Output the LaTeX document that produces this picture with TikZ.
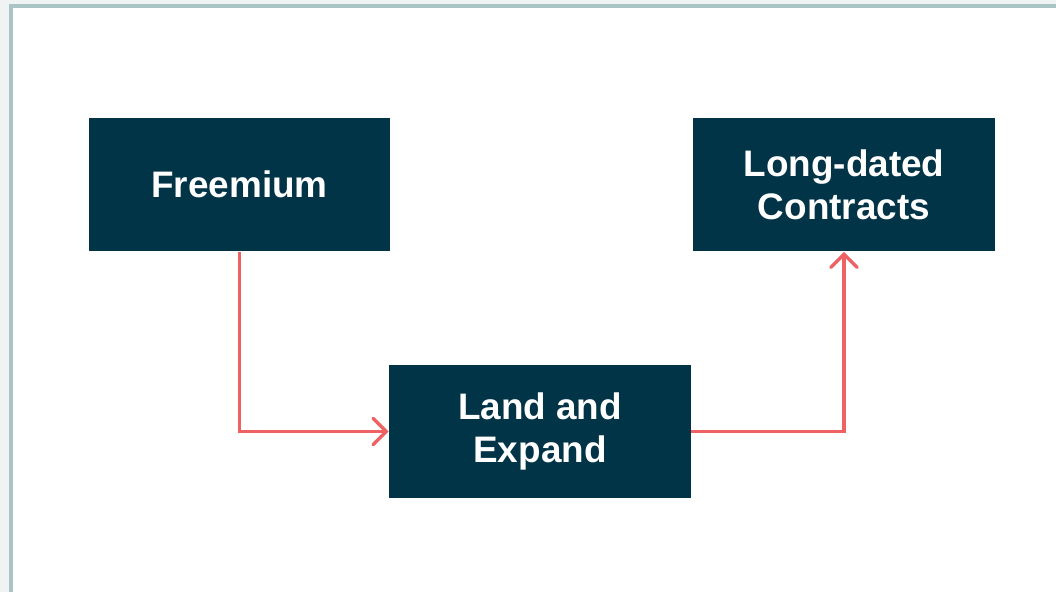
\documentclass[tikz,border=0pt]{standalone}
\usepackage{fontspec}
\setmainfont{Liberation Sans}
\usetikzlibrary{
	arrows.meta,
	positioning
}
\definecolor{boxteal}{HTML}{003446}
\definecolor{flowred}{HTML}{EE6264}
\definecolor{frameteal}{HTML}{A9C4C4}
\definecolor{pagegray}{HTML}{EFF3F4}
\tikzset{
	SB-Node/.style={rectangle,fill=boxteal,text=white,align=center,
		minimum width=6.04cm,minimum height=2.68cm,inner sep=0pt,
		font=\fontsize{21}{24.5}\selectfont\bfseries},
	SB-Arrow/.style={-{Straight Barb[length=7.5pt,width=15pt,line cap=round]},
		draw=flowred,line width=1.9pt}
}

\begin{document}
\begin{tikzpicture}[x=0.02cm,y=-0.02cm]
	\useasboundingbox (0,0) rectangle (1056,592);
	\clip (0,0) rectangle (1056,592);
	% page and frame
	\fill[pagegray] (0,0) rectangle (1056,592);
	\fill[white] (11,6) rectangle (1056,592);
	\draw[frameteal,line width=0.08cm] (11,600) -- (11,6) -- (1070,6);
	% the three boxes
	\node[SB-Node] (freemium) at (239.5,184.5) {Freemium};
	\node[SB-Node] (longdated) at (844,184.5) {Long-dated\\Contracts};
	\node[SB-Node] (landexpand) at (540,431.5) {Land and\\Expand};
	% connectors
	\draw[SB-Arrow] (freemium.south) |- (landexpand.west);
	\draw[SB-Arrow] (landexpand.east) -| (longdated.south);
\end{tikzpicture}
\end{document}
